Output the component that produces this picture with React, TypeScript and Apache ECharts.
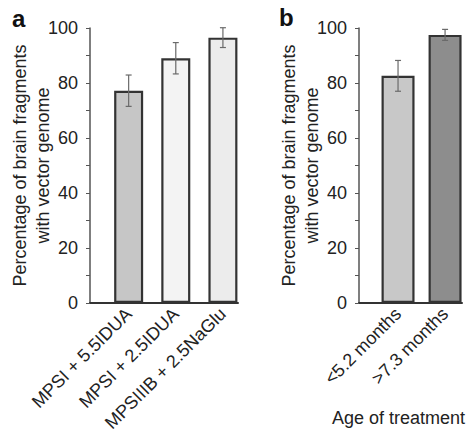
import React, { useEffect, useRef } from "react";
import * as echarts from "echarts";

// Panel a
const categoriesA = ["MPSI + 5.5IDUA", "MPSI + 2.5IDUA", "MPSIIIB + 2.5NaGlu"];
const valuesA = [77.2, 89.0, 96.5];
const errorsA = [5.7, 5.7, 3.6];
const colorsA = ["#c6c6c6", "#f3f3f3", "#ececec"];

// Panel b
const categoriesB = ["<5.2 months", ">7.3 months"];
const valuesB = [82.6, 97.5];
const errorsB = [5.6, 2.0];
const colorsB = ["#c8c8c8", "#8d8d8d"];

const yTicks = [0, 20, 40, 60, 80, 100];
const yName = "Percentage of brain fragments\nwith vector genome";
const xNameB = "Age of treatment";

const FONT = "'Liberation Sans', Arial, Helvetica, sans-serif";
const TEXT = "#222";

function yAxisFor(gridIndex: number, nameGap: number) {
  return {
    type: "value",
    gridIndex,
    min: yTicks[0],
    max: yTicks[yTicks.length - 1],
    interval: yTicks[1] - yTicks[0],
    name: yName,
    nameLocation: "middle",
    nameGap,
    nameMoveOverlap: false,
    nameTextStyle: { fontFamily: FONT, fontSize: 18, color: TEXT, lineHeight: 23 },
    axisLine: { show: true, lineStyle: { color: "#555", width: 1.5 } },
    axisTick: { show: true, length: 4, lineStyle: { color: "#555", width: 1 } },
    minorTick: { show: true, splitNumber: 2, length: 4, lineStyle: { color: "#555", width: 1 } },
    splitLine: { show: false },
    axisLabel: { fontFamily: FONT, fontSize: 18, color: TEXT, margin: 12 },
  };
}

function xAxisFor(gridIndex: number, cats: string[], min: number, max: number, extra: any = {}) {
  const idx = cats.map((_, i) => i + 1);
  return {
    type: "value",
    gridIndex,
    min,
    max,
    splitLine: { show: false },
    axisTick: { show: false },
    axisLine: { show: true, onZero: false, lineStyle: { color: "#333", width: 2 } },
    axisLabel: {
      customValues: idx,
      formatter: (v: number) => cats[Math.round(v) - 1] ?? "",
      rotate: 45,
      margin: 8,
      fontFamily: FONT,
      fontSize: 18,
      color: TEXT,
    },
    ...extra,
  };
}

function barSeries(xi: number, vals: number[], cols: string[], width: number) {
  return {
    type: "bar",
    xAxisIndex: xi,
    yAxisIndex: xi,
    barWidth: width,
    data: vals.map((v, i) => ({
      value: [i + 1, v],
      itemStyle: { color: cols[i], borderColor: "#333", borderWidth: 2.2 },
    })),
    z: 2,
  };
}

function errSeries(xi: number, vals: number[], errs: number[]) {
  return {
    type: "custom",
    xAxisIndex: xi,
    yAxisIndex: xi,
    data: vals.map((v, i) => [i + 1, v - errs[i], v + errs[i]]),
    z: 5,
    renderItem: (params: any, api: any) => {
      const x = api.value(0);
      const lo = api.coord([x, api.value(1)]);
      const hi = api.coord([x, api.value(2)]);
      const cap = 3;
      const style = { stroke: "#6a6a6a", lineWidth: 1.2 };
      return {
        type: "group",
        children: [
          { type: "line", shape: { x1: lo[0], y1: lo[1], x2: hi[0], y2: hi[1] }, style },
          { type: "line", shape: { x1: lo[0] - cap, y1: lo[1], x2: lo[0] + cap, y2: lo[1] }, style },
          { type: "line", shape: { x1: hi[0] - cap, y1: hi[1], x2: hi[0] + cap, y2: hi[1] }, style },
        ],
      };
    },
  };
}

export default function App() {
  const ref = useRef<HTMLDivElement>(null);
  useEffect(() => {
    if (!ref.current) return;
    const chart = echarts.init(ref.current, null, { renderer: "svg" });
    chart.setOption({
      animation: false,
      backgroundColor: "#ffffff",
      textStyle: { fontFamily: FONT },
      grid: [
        { left: 90, top: 28, width: 148, height: 275 },
        { left: 359, top: 28, width: 103, height: 275 },
      ],
      xAxis: [
        xAxisFor(0, categoriesA, 0.18, 3.32),
        xAxisFor(1, categoriesB, 0.17, 2.36, {
          name: xNameB,
          nameLocation: "middle",
          nameGap: 106,
          nameTextStyle: {
            fontFamily: FONT,
            fontSize: 18,
            color: TEXT,
            padding: [0, 24, 0, 0],
          },
        }),
      ],
      yAxis: [yAxisFor(0, 36), yAxisFor(1, 36)],
      series: [
        barSeries(0, valuesA, colorsA, 29),
        errSeries(0, valuesA, errorsA),
        barSeries(1, valuesB, colorsB, 33),
        errSeries(1, valuesB, errorsB),
      ],
      graphic: [
        {
          type: "text",
          left: 12,
          top: 6,
          style: { text: "a", font: `bold 24px ${FONT}`, fill: "#111" },
        },
        {
          type: "text",
          left: 279,
          top: 5,
          style: { text: "b", font: `bold 24px ${FONT}`, fill: "#111" },
        },
      ],
    });
    return () => chart.dispose();
  }, []);
  return (
    <div
      ref={ref}
      style={{ position: "fixed", left: 0, top: 0, width: 469, height: 438, background: "#fff" }}
    />
  );
}
